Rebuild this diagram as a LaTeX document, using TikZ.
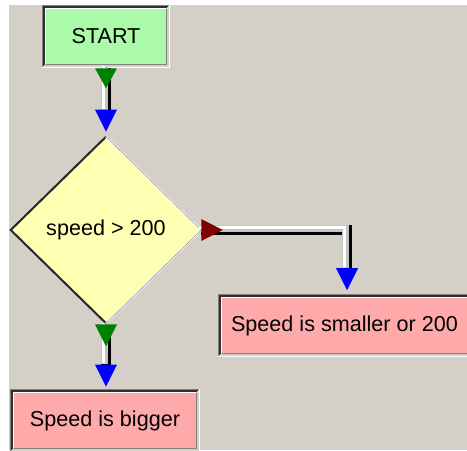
\documentclass[tikz,border=0pt]{standalone}
\usepackage{fontspec}
\setmainfont{Liberation Sans}
\usetikzlibrary{shapes.geometric}
\definecolor{bg}{HTML}{D4D0C8}
\definecolor{bvgray}{HTML}{808080}
\definecolor{bvdark}{HTML}{303030}
\definecolor{grn}{HTML}{008000}
\definecolor{blu}{HTML}{0000FF}
\definecolor{dred}{HTML}{800000}
\definecolor{startgreen}{HTML}{AAFAAA}
\definecolor{pinkfill}{HTML}{FFAAAA}
\definecolor{yellowfill}{HTML}{FFFFB4}
\definecolor{pipegray}{HTML}{C4C4C4}
\tikzset{
  box/.style={fill=#1, inner sep=0pt, minimum height=47.25pt, font=\fontsize{16.2pt}{19pt}\selectfont, text=black},
}
\newcommand\bevelbox[1]{%
  \foreach \d/\w/\tl/\br in {0.75/1.125pt/bvgray/white, 2.5/1.5pt/bvdark/bg, 4/0.75pt/white/bvgray}{%
    \draw[line width=\w, \tl] ([shift={(\d,-\d)}]#1.south west) -- ([shift={(\d,\d)}]#1.north west) -- ([shift={(-\d,\d)}]#1.north east);
    \draw[line width=\w, \br] ([shift={(-\d,\d)}]#1.north east) -- ([shift={(-\d,-\d)}]#1.south east) -- ([shift={(\d,-\d)}]#1.south west);
  }}
\newcommand\pipe[1]{%
  \draw[line width=7.5pt, black] #1;
  \begin{scope}[transform canvas={shift={(-1.5,-1.5)}}]
    \draw[line width=5.25pt, pipegray] #1;
  \end{scope}
  \begin{scope}[transform canvas={shift={(-2.5,-2.5)}}]
    \draw[line width=2.6pt, white] #1;
  \end{scope}}
\begin{document}
\begin{tikzpicture}[x=0.75pt,y=-0.75pt]
\useasboundingbox (0,0) rectangle (467,450);
\fill[white] (0,0) rectangle (467,450);
\fill[bg] (9,5) rectangle (467,450);

\node[box=startgreen, minimum width=96pt] (start) at (106,36.5) {START};
\node[diamond, fill=yellowfill, inner sep=0pt, minimum width=142.5pt, minimum height=139.5pt,
      font=\fontsize{16.2pt}{19pt}\selectfont] (dia) at (106,230) {speed > 200};
\node[box=pinkfill, minimum width=189.75pt] (small) at (344.5,325.5) {Speed is smaller or 200};
\node[box=pinkfill, minimum width=142.5pt] (big) at (105,420.5) {Speed is bigger};

\bevelbox{start}
\bevelbox{small}
\bevelbox{big}

\draw[line width=1.5pt, black!85] (dia.north) -- (dia.west) -- (dia.south);
\draw[line width=1.5pt, white] (dia.north) -- (dia.east) -- (dia.south);
\draw[line width=0.6pt, bvgray!70] (dia.north) -- (dia.east) -- (dia.south);

\coordinate (st) at ([shift={(2.5,0)}]small.north);
\coordinate (bt) at (dia.south |- big.north);

\pipe{(start.south) -- ([shift={(0,-25)}]dia.north)}
\pipe{(dia.east) -- (dia.east -| st) -- ([shift={(0,-24)}]st)}
\pipe{([shift={(0,2)}]dia.south) -- ([shift={(0,-23)}]bt)}

% start -> decision
\fill[grn] ([shift={(-11,0)}]start.south) -- ([shift={(11,0)}]start.south) -- ([shift={(0,20)}]start.south) -- cycle;
\fill[blu] ([shift={(-11,-27)}]dia.north) -- ([shift={(11,-27)}]dia.north) -- ([shift={(0,-5)}]dia.north) -- cycle;
% decision -> small
\fill[dred] ([shift={(0,-11)}]dia.east) -- ([shift={(0,11)}]dia.east) -- ([shift={(21.5,0)}]dia.east) -- cycle;
\fill[blu] ([shift={(-11,-25.5)}]st) -- ([shift={(11,-25.5)}]st) -- ([shift={(0,-3.5)}]st) -- cycle;
% decision -> big
\fill[grn] ([shift={(-11,1)}]dia.south) -- ([shift={(11,1)}]dia.south) -- ([shift={(0,23)}]dia.south) -- cycle;
\fill[blu] ([shift={(-11,-24)}]bt) -- ([shift={(11,-24)}]bt) -- ([shift={(0,-2)}]bt) -- cycle;
\end{tikzpicture}
\end{document}
